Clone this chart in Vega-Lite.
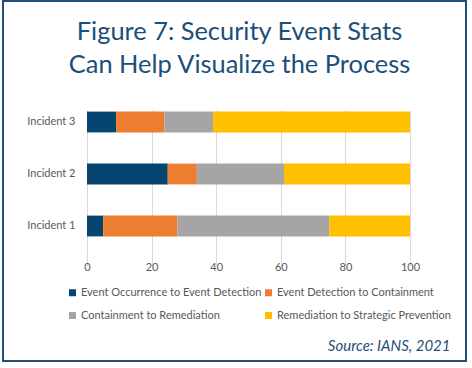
{
  "$schema": "https://vega.github.io/schema/vega-lite/v6.json",
  "width": 463,
  "height": 360,
  "autosize": {"type": "none"},
  "padding": {"left": 3, "top": 1, "right": 6, "bottom": 7},
  "background": "white",
  "config": {
    "view": {"stroke": "#1F4E79", "strokeWidth": 2},
    "font": "Lato"
  },
  "title": {
    "text": ["Figure 7: Security Event Stats", "Can Help Visualize the Process"],
    "font": "Lato",
    "fontSize": 25.4,
    "fontWeight": "normal",
    "color": "#1B4F7A",
    "anchor": "middle",
    "dx": 5,
    "offset": -77,
    "lineHeight": 33
  },
  "data": {
    "values": [
      {"incident": "Incident 1", "stage_no": 1, "stage": "Event Occurrence to Event Detection", "value": 5},
      {"incident": "Incident 1", "stage_no": 2, "stage": "Event Detection to Containment", "value": 23},
      {"incident": "Incident 1", "stage_no": 3, "stage": "Containment to Remediation", "value": 47},
      {"incident": "Incident 1", "stage_no": 4, "stage": "Remediation to Strategic Prevention", "value": 25},
      {"incident": "Incident 2", "stage_no": 1, "stage": "Event Occurrence to Event Detection", "value": 25},
      {"incident": "Incident 2", "stage_no": 2, "stage": "Event Detection to Containment", "value": 9},
      {"incident": "Incident 2", "stage_no": 3, "stage": "Containment to Remediation", "value": 27},
      {"incident": "Incident 2", "stage_no": 4, "stage": "Remediation to Strategic Prevention", "value": 39},
      {"incident": "Incident 3", "stage_no": 1, "stage": "Event Occurrence to Event Detection", "value": 9},
      {"incident": "Incident 3", "stage_no": 2, "stage": "Event Detection to Containment", "value": 15},
      {"incident": "Incident 3", "stage_no": 3, "stage": "Containment to Remediation", "value": 15},
      {"incident": "Incident 3", "stage_no": 4, "stage": "Remediation to Strategic Prevention", "value": 61}
    ]
  },
  "mark": {"type": "bar"},
  "encoding": {
    "y": {
      "field": "incident",
      "type": "nominal",
      "sort": ["Incident 3", "Incident 2", "Incident 1"],
      "scale": {"range": [95, 251], "paddingInner": 0.6, "paddingOuter": 0.3},
      "axis": {
        "title": null,
        "offset": -84,
        "domain": false,
        "ticks": false,
        "grid": false,
        "labelPadding": 12,
        "labelColor": "#595959",
        "labelFontSize": 11,
        "labelFont": "Lato"
      }
    },
    "x": {
      "field": "value",
      "type": "quantitative",
      "stack": "zero",
      "scale": {"domain": [0, 100], "range": [84, 407], "nice": false},
      "axis": {
        "values": [0, 20, 40, 60, 80, 100],
        "offset": -109,
        "domain": false,
        "ticks": false,
        "grid": true,
        "gridColor": "#D9D9D9",
        "gridWidth": 1,
        "labelFlush": false,
        "labelColor": "#595959",
        "labelFontSize": 11,
        "labelFont": "Lato",
        "labelPadding": 9,
        "title": "Source: IANS, 2021",
        "titleFont": "Lato",
        "titleFontStyle": "italic",
        "titleFontWeight": "normal",
        "titleFontSize": 15,
        "titleColor": "#1F4E79",
        "titleX": 447,
        "titleY": 98,
        "titleAlign": "right",
        "titleBaseline": "alphabetic",
        "titleAnchor": "end"
      }
    },
    "order": {"field": "stage_no", "type": "quantitative", "sort": "ascending"},
    "color": {
      "field": "stage",
      "type": "nominal",
      "sort": ["Event Occurrence to Event Detection", "Event Detection to Containment", "Containment to Remediation", "Remediation to Strategic Prevention"],
      "scale": {
        "domain": ["Event Occurrence to Event Detection", "Event Detection to Containment", "Containment to Remediation", "Remediation to Strategic Prevention"],
        "range": ["#05456F", "#ED7D31", "#A5A5A5", "#FFC000"]
      },
      "legend": {
        "title": null,
        "orient": "none",
        "legendX": 64,
        "legendY": 286,
        "direction": "horizontal",
        "columns": 2,
        "symbolType": "square",
        "symbolSize": 49,
        "symbolStrokeWidth": 0,
        "labelOffset": 3,
        "labelColor": "#595959",
        "labelFontSize": 11,
        "labelFont": "Lato",
        "labelLimit": 300,
        "columnPadding": 1,
        "rowPadding": 11,
        "padding": 0
      }
    }
  }
}
